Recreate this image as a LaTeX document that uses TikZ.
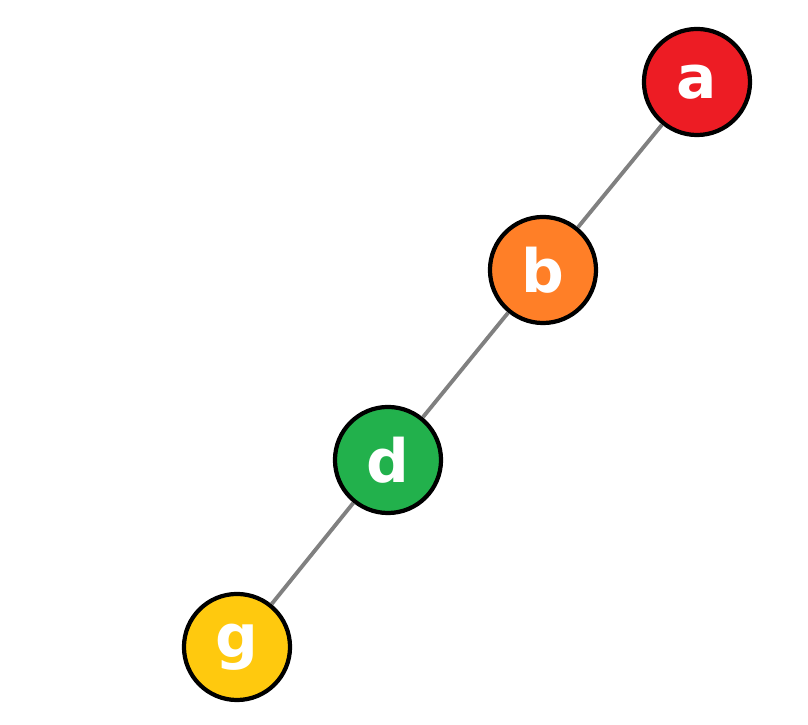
\documentclass[tikz,border=0pt]{standalone}
\usepackage{fontspec}
\setmainfont{DejaVu Sans}
\usepackage{tikz}
\usetikzlibrary{positioning}

\definecolor{nodered}{HTML}{ED1C24}
\definecolor{nodeorange}{HTML}{FF7F27}
\definecolor{nodegreen}{HTML}{22B14C}
\definecolor{nodeyellow}{HTML}{FFC90E}

\begin{document}
\begin{tikzpicture}[
  x=0.01cm,y=-0.01cm,
  vertex/.style={circle,draw=black,line width=1.2pt,minimum size=1.06cm,inner sep=0pt,
                 font=\fontsize{17}{17}\selectfont\bfseries,text=white},
  edge/.style={draw=black!50,line width=1.1pt}
]
\useasboundingbox (0,0) rectangle (808,725);

\node[vertex,fill=nodered]    (a) at (697,82)  {a};
\node[vertex,fill=nodeorange] (b) at (543,270) {b};
\node[vertex,fill=nodegreen]  (d) at (388,460) {d};
\node[vertex,fill=nodeyellow] (g) at (237,647) {g};

% tree path
\draw[edge] (a) -- (b) -- (d) -- (g);
\end{tikzpicture}
\end{document}
